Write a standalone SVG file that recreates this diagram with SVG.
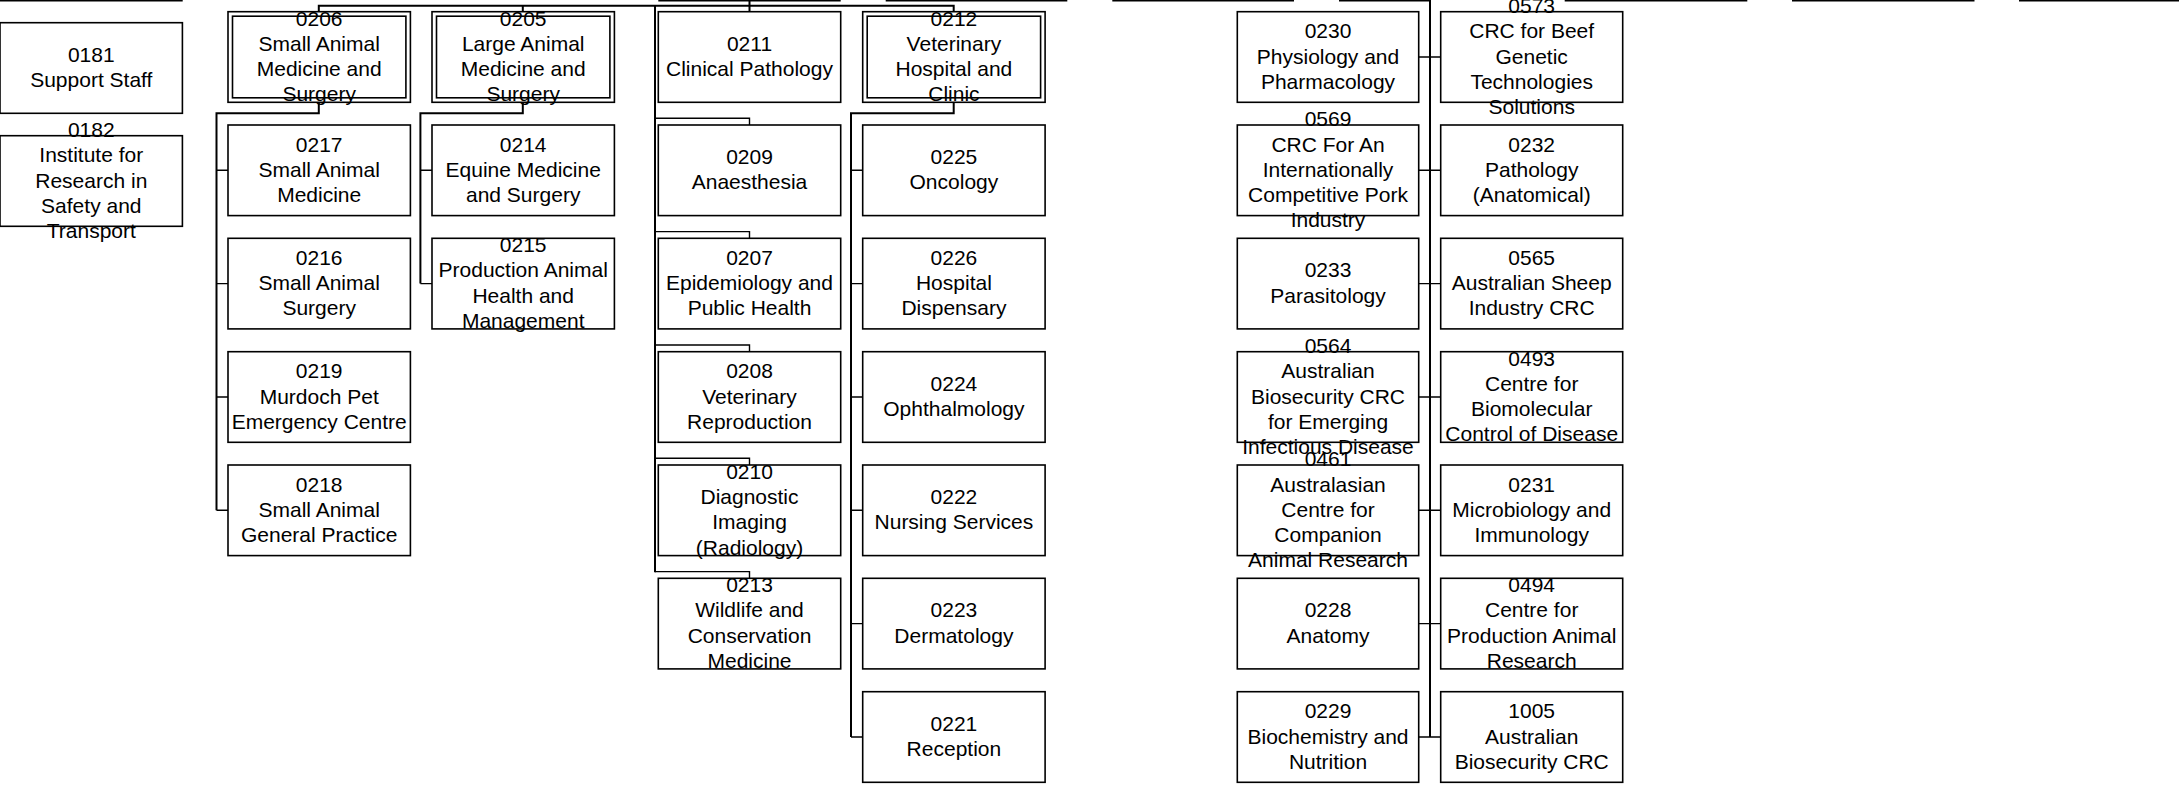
<svg xmlns="http://www.w3.org/2000/svg" width="2179" height="786" viewBox="0 0 2179 786">
<style>
.b{fill:#fff;stroke:#000;stroke-width:1.6}
.d{fill:none;stroke:#000;stroke-width:1.6}
.c{fill:none;stroke:#000;stroke-width:2}
.s{fill:none;stroke:#000;stroke-width:1.4}
text{font-family:"Liberation Sans",Arial,sans-serif;font-size:21px;fill:#000;text-anchor:middle}
</style>
<rect width="2179" height="786" fill="#fff"/>
<g id="top-cut">
<path class="s" d="M0,0.7H182.7M658.3,0.7H840.7M885.7,0.7H1067.3M1112.3,0.7H1294M1339,0.7H1430M1564.7,0.7H1747.3M1792,0.7H1974.5M2019,0.7H2179"/>
</g>
<g id="connectors">
<path class="c" d="M318.8,11.7V5.7H953.7V11.7M522.8,5.7V11.7M749.5,0V11.7"/>
<path class="c" d="M655,5.7V572.3"/>
<path class="s" d="M655,118.3H749.5V125M655,231.6H749.5V238.3M655,345H749.5V351.7M655,458.3H749.5V465M655,571.6H749.5V578.3"/>
<path class="c" d="M318.8,102V113.3H216.5V510.3"/>
<path class="s" d="M216.5,170.3H228M216.5,283.6H228M216.5,397H228M216.5,510.3H228"/>
<path class="c" d="M522.8,102V113.3H420.4V283.6"/>
<path class="s" d="M420.4,170.3H432M420.4,283.6H432"/>
<path class="c" d="M953.7,102V113.3H851V737"/>
<path class="s" d="M851,170.3H862.7M851,283.6H862.7M851,397H862.7M851,510.3H862.7M851,623.6H862.7M851,737H862.7"/>
<path class="c" d="M1430,0V737"/>
<path class="s" d="M1418.7,57H1440.7M1418.7,170.3H1440.7M1418.7,283.6H1440.7M1418.7,397H1440.7M1418.7,510.3H1440.7M1418.7,623.6H1440.7M1418.7,737H1440.7"/>
<path class="s" d="M0,68H2M0,181H2"/>
</g>
<g id="n0181"><rect class="b" x="0" y="22.7" width="182.4" height="90.6"/><text x="91.3" y="61.85"><tspan x="91.3">0181</tspan><tspan x="91.3" dy="25.3">Support Staff</tspan></text></g>
<g id="n0182"><rect class="b" x="0" y="135.7" width="182.4" height="90.6"/><text x="91.3" y="136.9"><tspan x="91.3">0182</tspan><tspan x="91.3" dy="25.3">Institute for</tspan><tspan x="91.3" dy="25.3">Research in</tspan><tspan x="91.3" dy="25.3">Safety and</tspan><tspan x="91.3" dy="25.3">Transport</tspan></text></g>

<g id="n0206"><rect class="b" x="228" y="11.7" width="182.4" height="90.6"/><rect class="d" x="232.5" y="16.2" width="173.4" height="81.6"/><text x="319.2" y="25.55"><tspan x="319.2">0206</tspan><tspan x="319.2" dy="25.3">Small Animal</tspan><tspan x="319.2" dy="25.3">Medicine and</tspan><tspan x="319.2" dy="25.3">Surgery</tspan></text></g>
<g id="n0217"><rect class="b" x="228" y="125" width="182.4" height="90.6"/><text x="319.2" y="151.5"><tspan x="319.2">0217</tspan><tspan x="319.2" dy="25.3">Small Animal</tspan><tspan x="319.2" dy="25.3">Medicine</tspan></text></g>
<g id="n0216"><rect class="b" x="228" y="238.3" width="182.4" height="90.6"/><text x="319.2" y="264.8"><tspan x="319.2">0216</tspan><tspan x="319.2" dy="25.3">Small Animal</tspan><tspan x="319.2" dy="25.3">Surgery</tspan></text></g>
<g id="n0219"><rect class="b" x="228" y="351.7" width="182.4" height="90.6"/><text x="319.2" y="378.2"><tspan x="319.2">0219</tspan><tspan x="319.2" dy="25.3">Murdoch Pet</tspan><tspan x="319.2" dy="25.3">Emergency Centre</tspan></text></g>
<g id="n0218"><rect class="b" x="228" y="465" width="182.4" height="90.6"/><text x="319.2" y="491.5"><tspan x="319.2">0218</tspan><tspan x="319.2" dy="25.3">Small Animal</tspan><tspan x="319.2" dy="25.3">General Practice</tspan></text></g>

<g id="n0205"><rect class="b" x="432" y="11.7" width="182.4" height="90.6"/><rect class="d" x="436.5" y="16.2" width="173.4" height="81.6"/><text x="523.2" y="25.55"><tspan x="523.2">0205</tspan><tspan x="523.2" dy="25.3">Large Animal</tspan><tspan x="523.2" dy="25.3">Medicine and</tspan><tspan x="523.2" dy="25.3">Surgery</tspan></text></g>
<g id="n0214"><rect class="b" x="432" y="125" width="182.4" height="90.6"/><text x="523.2" y="151.5"><tspan x="523.2">0214</tspan><tspan x="523.2" dy="25.3">Equine Medicine</tspan><tspan x="523.2" dy="25.3">and Surgery</tspan></text></g>
<g id="n0215"><rect class="b" x="432" y="238.3" width="182.4" height="90.6"/><text x="523.2" y="252.15"><tspan x="523.2">0215</tspan><tspan x="523.2" dy="25.3">Production Animal</tspan><tspan x="523.2" dy="25.3">Health and</tspan><tspan x="523.2" dy="25.3">Management</tspan></text></g>

<g id="n0211"><rect class="b" x="658.3" y="11.7" width="182.4" height="90.6"/><text x="749.5" y="50.85"><tspan x="749.5">0211</tspan><tspan x="749.5" dy="25.3">Clinical Pathology</tspan></text></g>
<g id="n0209"><rect class="b" x="658.3" y="125" width="182.4" height="90.6"/><text x="749.5" y="164.15"><tspan x="749.5">0209</tspan><tspan x="749.5" dy="25.3">Anaesthesia</tspan></text></g>
<g id="n0207"><rect class="b" x="658.3" y="238.3" width="182.4" height="90.6"/><text x="749.5" y="264.8"><tspan x="749.5">0207</tspan><tspan x="749.5" dy="25.3">Epidemiology and</tspan><tspan x="749.5" dy="25.3">Public Health</tspan></text></g>
<g id="n0208"><rect class="b" x="658.3" y="351.7" width="182.4" height="90.6"/><text x="749.5" y="378.2"><tspan x="749.5">0208</tspan><tspan x="749.5" dy="25.3">Veterinary</tspan><tspan x="749.5" dy="25.3">Reproduction</tspan></text></g>
<g id="n0210"><rect class="b" x="658.3" y="465" width="182.4" height="90.6"/><text x="749.5" y="478.85"><tspan x="749.5">0210</tspan><tspan x="749.5" dy="25.3">Diagnostic</tspan><tspan x="749.5" dy="25.3">Imaging</tspan><tspan x="749.5" dy="25.3">(Radiology)</tspan></text></g>
<g id="n0213"><rect class="b" x="658.3" y="578.3" width="182.4" height="90.6"/><text x="749.5" y="592.15"><tspan x="749.5">0213</tspan><tspan x="749.5" dy="25.3">Wildlife and</tspan><tspan x="749.5" dy="25.3">Conservation</tspan><tspan x="749.5" dy="25.3">Medicine</tspan></text></g>

<g id="n0212"><rect class="b" x="862.7" y="11.7" width="182.4" height="90.6"/><rect class="d" x="867.2" y="16.2" width="173.4" height="81.6"/><text x="953.9" y="25.55"><tspan x="953.9">0212</tspan><tspan x="953.9" dy="25.3">Veterinary</tspan><tspan x="953.9" dy="25.3">Hospital and</tspan><tspan x="953.9" dy="25.3">Clinic</tspan></text></g>
<g id="n0225"><rect class="b" x="862.7" y="125" width="182.4" height="90.6"/><text x="953.9" y="164.15"><tspan x="953.9">0225</tspan><tspan x="953.9" dy="25.3">Oncology</tspan></text></g>
<g id="n0226"><rect class="b" x="862.7" y="238.3" width="182.4" height="90.6"/><text x="953.9" y="264.8"><tspan x="953.9">0226</tspan><tspan x="953.9" dy="25.3">Hospital</tspan><tspan x="953.9" dy="25.3">Dispensary</tspan></text></g>
<g id="n0224"><rect class="b" x="862.7" y="351.7" width="182.4" height="90.6"/><text x="953.9" y="390.85"><tspan x="953.9">0224</tspan><tspan x="953.9" dy="25.3">Ophthalmology</tspan></text></g>
<g id="n0222"><rect class="b" x="862.7" y="465" width="182.4" height="90.6"/><text x="953.9" y="504.15"><tspan x="953.9">0222</tspan><tspan x="953.9" dy="25.3">Nursing Services</tspan></text></g>
<g id="n0223"><rect class="b" x="862.7" y="578.3" width="182.4" height="90.6"/><text x="953.9" y="617.45"><tspan x="953.9">0223</tspan><tspan x="953.9" dy="25.3">Dermatology</tspan></text></g>
<g id="n0221"><rect class="b" x="862.7" y="691.7" width="182.4" height="90.6"/><text x="953.9" y="730.85"><tspan x="953.9">0221</tspan><tspan x="953.9" dy="25.3">Reception</tspan></text></g>

<g id="n0230"><rect class="b" x="1237.3" y="11.7" width="181.4" height="90.6"/><text x="1328" y="38.2"><tspan x="1328">0230</tspan><tspan x="1328" dy="25.3">Physiology and</tspan><tspan x="1328" dy="25.3">Pharmacology</tspan></text></g>
<g id="n0569"><rect class="b" x="1237.3" y="125" width="181.4" height="90.6"/><text x="1328" y="126.2"><tspan x="1328">0569</tspan><tspan x="1328" dy="25.3">CRC For An</tspan><tspan x="1328" dy="25.3">Internationally</tspan><tspan x="1328" dy="25.3">Competitive Pork</tspan><tspan x="1328" dy="25.3">Industry</tspan></text></g>
<g id="n0233"><rect class="b" x="1237.3" y="238.3" width="181.4" height="90.6"/><text x="1328" y="277.45"><tspan x="1328">0233</tspan><tspan x="1328" dy="25.3">Parasitology</tspan></text></g>
<g id="n0564"><rect class="b" x="1237.3" y="351.7" width="181.4" height="90.6"/><text x="1328" y="352.9"><tspan x="1328">0564</tspan><tspan x="1328" dy="25.3">Australian</tspan><tspan x="1328" dy="25.3">Biosecurity CRC</tspan><tspan x="1328" dy="25.3">for Emerging</tspan><tspan x="1328" dy="25.3">Infectious Disease</tspan></text></g>
<g id="n0461"><rect class="b" x="1237.3" y="465" width="181.4" height="90.6"/><text x="1328" y="466.2"><tspan x="1328">0461</tspan><tspan x="1328" dy="25.3">Australasian</tspan><tspan x="1328" dy="25.3">Centre for</tspan><tspan x="1328" dy="25.3">Companion</tspan><tspan x="1328" dy="25.3">Animal Research</tspan></text></g>
<g id="n0228"><rect class="b" x="1237.3" y="578.3" width="181.4" height="90.6"/><text x="1328" y="617.45"><tspan x="1328">0228</tspan><tspan x="1328" dy="25.3">Anatomy</tspan></text></g>
<g id="n0229"><rect class="b" x="1237.3" y="691.7" width="181.4" height="90.6"/><text x="1328" y="718.2"><tspan x="1328">0229</tspan><tspan x="1328" dy="25.3">Biochemistry and</tspan><tspan x="1328" dy="25.3">Nutrition</tspan></text></g>

<g id="n0573"><rect class="b" x="1440.7" y="11.7" width="182" height="90.6"/><text x="1531.7" y="12.9"><tspan x="1531.7">0573</tspan><tspan x="1531.7" dy="25.3">CRC for Beef</tspan><tspan x="1531.7" dy="25.3">Genetic</tspan><tspan x="1531.7" dy="25.3">Technologies</tspan><tspan x="1531.7" dy="25.3">Solutions</tspan></text></g>
<g id="n0232"><rect class="b" x="1440.7" y="125" width="182" height="90.6"/><text x="1531.7" y="151.5"><tspan x="1531.7">0232</tspan><tspan x="1531.7" dy="25.3">Pathology</tspan><tspan x="1531.7" dy="25.3">(Anatomical)</tspan></text></g>
<g id="n0565"><rect class="b" x="1440.7" y="238.3" width="182" height="90.6"/><text x="1531.7" y="264.8"><tspan x="1531.7">0565</tspan><tspan x="1531.7" dy="25.3">Australian Sheep</tspan><tspan x="1531.7" dy="25.3">Industry CRC</tspan></text></g>
<g id="n0493"><rect class="b" x="1440.7" y="351.7" width="182" height="90.6"/><text x="1531.7" y="365.55"><tspan x="1531.7">0493</tspan><tspan x="1531.7" dy="25.3">Centre for</tspan><tspan x="1531.7" dy="25.3">Biomolecular</tspan><tspan x="1531.7" dy="25.3">Control of Disease</tspan></text></g>
<g id="n0231"><rect class="b" x="1440.7" y="465" width="182" height="90.6"/><text x="1531.7" y="491.5"><tspan x="1531.7">0231</tspan><tspan x="1531.7" dy="25.3">Microbiology and</tspan><tspan x="1531.7" dy="25.3">Immunology</tspan></text></g>
<g id="n0494"><rect class="b" x="1440.7" y="578.3" width="182" height="90.6"/><text x="1531.7" y="592.15"><tspan x="1531.7">0494</tspan><tspan x="1531.7" dy="25.3">Centre for</tspan><tspan x="1531.7" dy="25.3">Production Animal</tspan><tspan x="1531.7" dy="25.3">Research</tspan></text></g>
<g id="n1005"><rect class="b" x="1440.7" y="691.7" width="182" height="90.6"/><text x="1531.7" y="718.2"><tspan x="1531.7">1005</tspan><tspan x="1531.7" dy="25.3">Australian</tspan><tspan x="1531.7" dy="25.3">Biosecurity CRC</tspan></text></g>
</svg>
